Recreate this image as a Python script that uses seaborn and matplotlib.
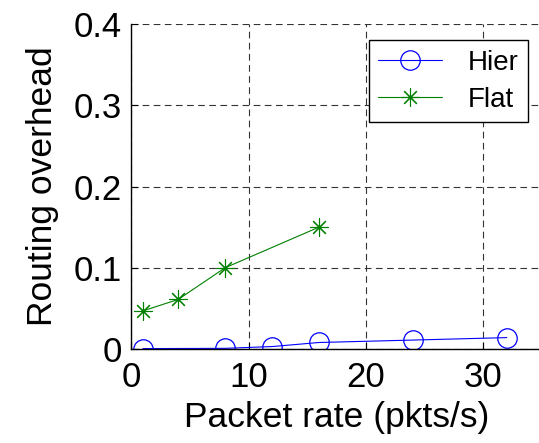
import numpy as np
import pandas as pd
import matplotlib
matplotlib.use("Agg")
import matplotlib.pyplot as plt
import seaborn as sns

# data
hier_rate = [1, 8, 12, 16, 24, 32]
hier_overhead = [0.0005, 0.0008, 0.003, 0.008, 0.011, 0.014]
flat_rate = [1, 4, 8, 16]
flat_overhead = [0.047, 0.061, 0.100, 0.150]

x_ticks = [0, 10, 20, 30]
y_ticks = [0, 0.1, 0.2, 0.3, 0.4]
y_tick_labels = ["0", "0.1", "0.2", "0.3", "0.4"]

sns.set_style("ticks")
plt.rcParams["font.family"] = ["Liberation Sans", "DejaVu Sans"]
plt.rcParams["text.color"] = "black"
plt.rcParams["axes.labelcolor"] = "black"
plt.rcParams["xtick.color"] = "black"
plt.rcParams["ytick.color"] = "black"

fig = plt.figure(figsize=(5.39, 4.43), dpi=100)
ax = fig.add_axes([0.2436, 0.2122, 0.7618, 0.7336])

hier = pd.DataFrame({"rate": hier_rate, "overhead": hier_overhead})
flat = pd.DataFrame({"rate": flat_rate, "overhead": flat_overhead})

sns.lineplot(data=hier, x="rate", y="overhead", ax=ax, color=(0, 0, 1),
             marker="o", markersize=14, markerfacecolor="none",
             markeredgecolor=(0, 0, 1), markeredgewidth=0.9,
             linewidth=0.8, label="Hier")
sns.lineplot(data=flat, x="rate", y="overhead", ax=ax, color=(0, 0.5, 0),
             marker=(8, 2, 0), markersize=13, markeredgecolor=(0, 0.5, 0),
             markeredgewidth=0.8, linewidth=0.8, label="Flat")

ax.set_xlim(0, 35)
ax.set_ylim(0, 0.4)
ax.set_xticks(x_ticks)
ax.set_yticks(y_ticks)
ax.set_yticklabels(y_tick_labels)
ax.tick_params(direction="in", length=5, width=0.8, labelsize=25,
               colors="black")
ax.tick_params(axis="x", pad=9)
ax.tick_params(axis="y", pad=7)
ax.grid(True, color="#333333", linestyle=(0, (6, 4)), linewidth=0.8)
ax.set_axisbelow(True)
for s in ["top", "right"]:
    ax.spines[s].set_visible(False)
for s in ["left", "bottom"]:
    ax.spines[s].set_linewidth(1.0)
    ax.spines[s].set_color("black")

ax.set_xlabel("Packet rate (pkts/s)", fontsize=25.5, labelpad=5, color="black")
ax.set_ylabel("Routing overhead", fontsize=25.5, labelpad=10, color="black")

leg = ax.legend(loc="upper right", bbox_to_anchor=(0.966, 0.951), fontsize=20,
                frameon=True, fancybox=False, framealpha=1, edgecolor="black",
                handlelength=2.3, handletextpad=0.9, labelspacing=0.4,
                borderpad=0.35, borderaxespad=0)
leg.get_frame().set_linewidth(1.0)
for t in leg.get_texts():
    t.set_color("black")

fig.savefig("out.png", dpi=100)
